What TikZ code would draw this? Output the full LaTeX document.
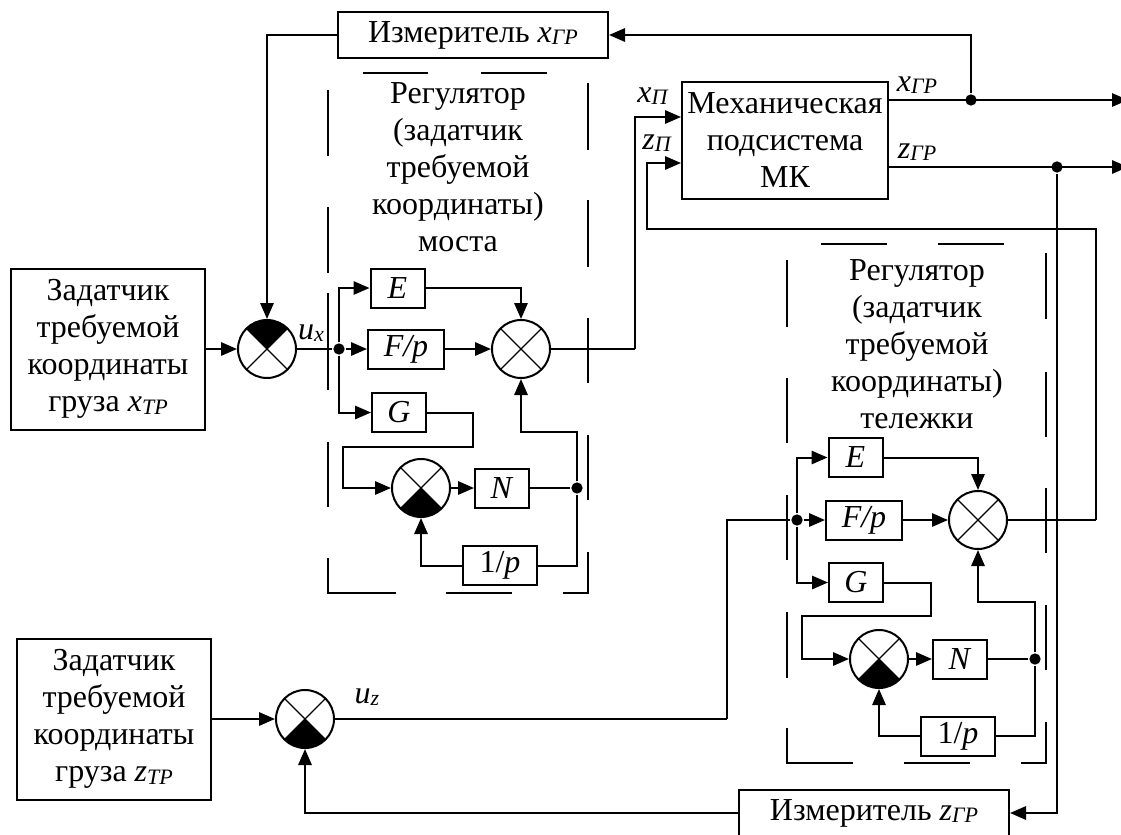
\documentclass[tikz,border=0pt]{standalone}
\usepackage{fontspec}
\setmainfont{Liberation Serif}
\usetikzlibrary{arrows.meta,calc}

% italic letter with small italic index
\newcommand{\ix}[2]{\textit{#1}\raisebox{-2pt}{\fontsize{16.5}{16.5}\selectfont\textit{#2}}}
% cross inside a summing circle
\newcommand{\sumcross}{\draw[line width=1pt] (path picture bounding box.north west) -- (path picture bounding box.south east) (path picture bounding box.north east) -- (path picture bounding box.south west);}

\tikzset{
	block/.style={draw, rectangle, line width=1.5pt, inner sep=0pt, align=center, minimum height=29.25pt},
	sumbase/.style={circle, draw, line width=1.5pt, minimum size=43.5pt, inner sep=0pt},
	sumplain/.style={sumbase, path picture={\sumcross}},
	sumtop/.style={sumbase, path picture={\fill (path picture bounding box.center) -- (path picture bounding box.north west) -- (path picture bounding box.north east) -- cycle; \sumcross}},
	sumbot/.style={sumbase, path picture={\fill (path picture bounding box.center) -- (path picture bounding box.south west) -- (path picture bounding box.south east) -- cycle; \sumcross}},
	junct/.style={circle, fill, inner sep=0pt, minimum size=8.5pt},
	thinl/.style={line width=0.9pt}
}

\begin{document}
\fontsize{24}{27.75}\selectfont
\begin{tikzpicture}[x=0.75pt, y=-0.75pt, line width=1.5pt, >={Triangle[length=12pt,width=10pt]}]
	\useasboundingbox (0,0) rectangle (1121,835);

	%Blocks
	\node[block, minimum width=145.5pt, minimum height=120.75pt] (zadx) at (108,349) {Задатчик\\требуемой\\координаты\\груза \ix{x}{ТР}};
	\node[block, minimum width=145.5pt, minimum height=120.75pt] (zadz) at (114,719) {Задатчик\\требуемой\\координаты\\груза \ix{z}{ТР}};
	\node[block, minimum width=202.5pt, minimum height=34.5pt] (measx) at (473,35) {Измеритель \ix{x}{ГР}};
	\node[block, minimum width=202.5pt, minimum height=34.5pt] (measz) at (874,813) {Измеритель \ix{z}{ГР}};
	\node[block, minimum width=154.5pt, minimum height=87.75pt] (mech) at (785,140.5) {Механическая\\подсистема\\МК};

	%Regulator of the bridge
	\node[sumtop] (sumx) at (267,349) {};
	\node[block, minimum width=40.5pt] (E1) at (397.5,288) {\textit{E}};
	\node[block, minimum width=57pt] (F1) at (406,349) {\textit{F/p}};
	\node[block, minimum width=40.5pt] (G1) at (399,412.5) {\textit{G}};
	\node[sumplain] (sumA) at (521,349) {};
	\node[sumbot] (sumB) at (421,488) {};
	\node[block, minimum width=40.5pt] (N1) at (502,488) {\textit{N}};
	\node[block, minimum width=55.5pt] (P1) at (500,565.5) {1/\textit{p}};

	%Regulator of the trolley
	\node[sumbot] (sumz) at (305,719) {};
	\node[block, minimum width=40.5pt] (E2) at (855.5,457.5) {\textit{E}};
	\node[block, minimum width=57pt] (F2) at (864,520) {\textit{F/p}};
	\node[block, minimum width=40.5pt] (G2) at (856,582.5) {\textit{G}};
	\node[sumplain] (sumC) at (978,520) {};
	\node[sumbot] (sumD) at (879,659) {};
	\node[block, minimum width=40.5pt] (N2) at (960,659) {\textit{N}};
	\node[block, minimum width=55.5pt] (P2) at (958,736) {1/\textit{p}};

	%Junctions
	\node[junct] (jux) at (339,349) {};
	\node[junct] (jn1) at (577,488) {};
	\node[junct] (juz) at (797,520) {};
	\node[junct] (jn2) at (1035,659) {};
	\node[junct] (jxgr) at (971,100) {};
	\node[junct] (jzgr) at (1057,167) {};

	%Bend points
	\coordinate (xout) at (1128,100);
	\coordinate (zout) at (1128,167);
	\coordinate (xpi) at (635,117);
	\coordinate (zpi) at (647,163);
	\coordinate (zr) at (1096,229);
	\coordinate (g1r) at (473,447);
	\coordinate (g1l) at (343,447);
	\coordinate (n1u) at (577,432);
	\coordinate (g2r) at (931,616);
	\coordinate (g2l) at (802,616);
	\coordinate (n2u) at (1035,602);
	\coordinate (uzu) at (727,520);

	%Text
	\node[align=center] (regx) at (458,167) {Регулятор\\(задатчик\\требуемой\\координаты)\\моста};
	\node[align=center] (regz) at (917,344) {Регулятор\\(задатчик\\требуемой\\координаты)\\тележки};
	\node (lxp) at (653,96) {\ix{x}{П}};
	\node (lzp) at (657,143) {\ix{z}{П}};
	\node (lxgr) at (917,85) {\ix{x}{ГР}};
	\node (lzgr) at (917,152) {\ix{z}{ГР}};
	\node (lux) at (311,333) {\ix{u}{x}};
	\node (luz) at (367,697) {\ix{u}{z}};

	%Dashed frame, bridge
	\foreach \a/\b in {363/428,481/547} \draw (\a,73) -- (\b,73);
	\foreach \a/\b in {90/156,207/273,293/390,442/507} \draw (328,\a) -- (328,\b);
	\foreach \a/\b in {83/150,200/267,318/383,435/500} \draw (588,\a) -- (588,\b);
	\draw (328,558) -- (328,593) -- (396,593);
	\draw (446,593) -- (512,593);
	\draw (563,593) -- (588,593) -- (588,552);

	%Dashed frame, trolley
	\foreach \a/\b in {821/887,938/1004} \draw (\a,244) -- (\b,244);
	\foreach \a/\b in {260/327,378/443,495/560,612/678} \draw (787,\a) -- (787,\b);
	\foreach \a/\b in {253/319,372/437,488/553,605/670} \draw (1046,\a) -- (1046,\b);
	\draw (787,728) -- (787,763) -- (853,763);
	\draw (904,763) -- (970,763);
	\draw (1021,763) -- (1046,763) -- (1046,722);

	%Lines, x channel
	\draw[->] (zadx) -- (sumx);
	\draw[->] (measx) -| (sumx);
	\draw[thinl] (sumx) -- (jux);
	\draw[->] (jux) -- (F1);
	\draw[->] (jux) |- (E1);
	\draw[->] (jux) |- (G1);
	\draw[->] (E1) -| (sumA);
	\draw[->] (F1) -- (sumA);
	\draw[thinl] (sumA) -- (sumA -| xpi);
	\draw[->] (sumA -| xpi) -- (xpi) -- (xpi -| mech.west);
	\draw[->] (G1) -| (g1r) -- (g1l) |- (sumB);
	\draw[->] (sumB) -- (N1);
	\draw (N1) -- (jn1);
	\draw[->] (jn1) -- (n1u) -| (sumA);
	\draw (jn1) |- (P1);
	\draw[->] (P1) -| (sumB);

	%Lines, z channel
	\draw[->] (zadz) -- (sumz);
	\draw[thinl] (sumz) -- (sumz -| uzu);
	\draw (sumz -| uzu) -- (uzu) -- (juz);
	\draw[->] (juz) -- (F2);
	\draw[->] (juz) |- (E2);
	\draw[->] (juz) |- (G2);
	\draw[->] (E2) -| (sumC);
	\draw[->] (F2) -- (sumC);
	\draw[thinl] (sumC) -- (sumC -| zr);
	\draw[->] (sumC -| zr) -- (zr) -| (zpi) -- (zpi -| mech.west);
	\draw[->] (G2) -| (g2r) -- (g2l) |- (sumD);
	\draw[->] (sumD) -- (N2);
	\draw (N2) -- (jn2);
	\draw[->] (jn2) -- (n2u) -| (sumC);
	\draw (jn2) |- (P2);
	\draw[->] (P2) -| (sumD);

	%Outputs and measurement
	\draw[->] (mech.east |- xout) -- (xout);
	\draw[->] (mech.east |- zout) -- (zout);
	\draw[->] (jxgr) |- (measx);
	\draw[->] (jzgr) |- (measz);
	\draw[->] (measz) -| (sumz);
\end{tikzpicture}
\end{document}
